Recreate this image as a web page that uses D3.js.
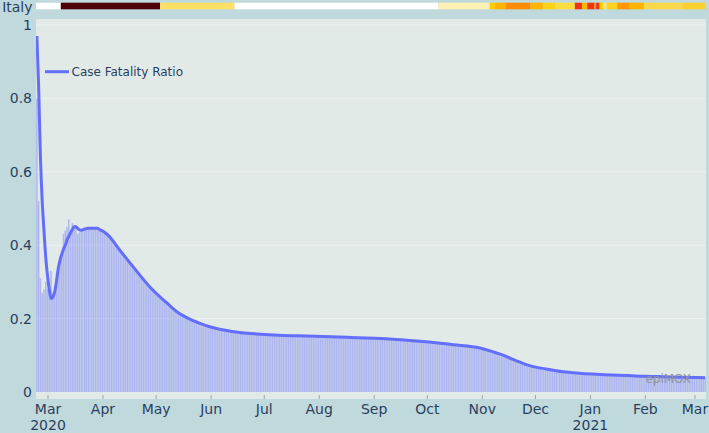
<!DOCTYPE html>
<html lang="en">
<head>
<meta charset="utf-8">
<title>Italy - Case Fatality Ratio</title>
<script src="https://cdnjs.cloudflare.com/ajax/libs/d3/7.8.0/d3.min.js"></script>
<style>
  body { margin: 0; background: #bfd9dc; }
  text { font-family: "DejaVu Sans", Verdana, sans-serif; fill: #2a3f5f; }
</style>
</head>
<body>
<div id="chart"></div>
<script>
// daily case fatality ratio (bars), one value per day starting at firstDay
var firstDay = "2020-02-24";
var cfrDaily = [
  0.80, 0.52, 0.31, 0.27, 0.28, 0.30, 0.28, 0.29, 0.33, 0.27,
  0.26, 0.30, 0.33, 0.37, 0.38, 0.43, 0.44, 0.45, 0.47, 0.44,
  0.46, 0.45, 0.455, 0.43, 0.435, 0.44, 0.445, 0.445, 0.45, 0.448,
  0.447, 0.45, 0.446, 0.447, 0.446, 0.444, 0.441, 0.439, 0.436, 0.432,
  0.428, 0.425, 0.419, 0.412, 0.405, 0.398, 0.392, 0.385, 0.379, 0.373,
  0.367, 0.361, 0.355, 0.349, 0.343, 0.337, 0.331, 0.325, 0.319, 0.313,
  0.307, 0.302, 0.296, 0.291, 0.285, 0.280, 0.275, 0.270, 0.265, 0.261,
  0.256, 0.252, 0.248, 0.244, 0.240, 0.235, 0.231, 0.227, 0.223, 0.219,
  0.215, 0.212, 0.209, 0.206, 0.203, 0.201, 0.199, 0.197, 0.195, 0.193,
  0.191, 0.189, 0.187, 0.185, 0.184, 0.182, 0.180, 0.178, 0.177, 0.176,
  0.175, 0.174, 0.173, 0.172, 0.171, 0.170, 0.169, 0.168, 0.167, 0.166,
  0.165, 0.165, 0.164, 0.164, 0.163, 0.162, 0.162, 0.161, 0.161, 0.160,
  0.160, 0.159, 0.159, 0.158, 0.158, 0.158, 0.157, 0.157, 0.157, 0.156,
  0.156, 0.156, 0.156, 0.155, 0.155, 0.155, 0.155, 0.154, 0.154, 0.154,
  0.154, 0.154, 0.154, 0.153, 0.153, 0.153, 0.153, 0.153, 0.153, 0.153,
  0.153, 0.152, 0.152, 0.152, 0.152, 0.152, 0.151, 0.151, 0.151, 0.151,
  0.151, 0.151, 0.150, 0.150, 0.150, 0.150, 0.150, 0.150, 0.150, 0.149,
  0.149, 0.149, 0.149, 0.149, 0.149, 0.149, 0.149, 0.148, 0.148, 0.148,
  0.148, 0.148, 0.147, 0.147, 0.147, 0.147, 0.147, 0.146, 0.146, 0.146,
  0.146, 0.146, 0.146, 0.145, 0.145, 0.145, 0.145, 0.145, 0.144, 0.144,
  0.144, 0.143, 0.143, 0.143, 0.142, 0.142, 0.142, 0.141, 0.141, 0.141,
  0.140, 0.140, 0.139, 0.139, 0.139, 0.138, 0.138, 0.137, 0.137, 0.136,
  0.136, 0.135, 0.135, 0.134, 0.134, 0.134, 0.133, 0.133, 0.132, 0.132,
  0.131, 0.131, 0.130, 0.130, 0.129, 0.129, 0.128, 0.128, 0.127, 0.127,
  0.126, 0.126, 0.125, 0.125, 0.124, 0.124, 0.123, 0.122, 0.122, 0.121,
  0.120, 0.119, 0.118, 0.117, 0.116, 0.114, 0.112, 0.110, 0.109, 0.107,
  0.106, 0.104, 0.102, 0.100, 0.098, 0.096, 0.094, 0.092, 0.090, 0.088,
  0.086, 0.084, 0.082, 0.080, 0.078, 0.077, 0.075, 0.074, 0.072, 0.071,
  0.070, 0.069, 0.068, 0.067, 0.066, 0.065, 0.064, 0.063, 0.062, 0.061,
  0.060, 0.059, 0.059, 0.058, 0.057, 0.057, 0.056, 0.055, 0.055, 0.054,
  0.054, 0.053, 0.053, 0.052, 0.052, 0.052, 0.051, 0.051, 0.051, 0.050,
  0.050, 0.050, 0.049, 0.049, 0.049, 0.049, 0.048, 0.048, 0.048, 0.048,
  0.047, 0.047, 0.047, 0.047, 0.046, 0.046, 0.046, 0.046, 0.046, 0.045,
  0.045, 0.045, 0.045, 0.045, 0.044, 0.044, 0.044, 0.044, 0.044, 0.044,
  0.043, 0.043, 0.043, 0.043, 0.043, 0.043, 0.042, 0.042, 0.042, 0.042,
  0.042, 0.042, 0.041, 0.041, 0.041, 0.041, 0.041, 0.041, 0.040, 0.040,
  0.040, 0.040, 0.040, 0.040, 0.040, 0.040, 0.040, 0.040, 0.039, 0.039,
  0.039, 0.039, 0.039, 0.039, 0.039, 0.039, 0.039, 0.039
];

// smoothed trend (the line)
var trendDates = [
  "2020-02-24", "2020-02-25", "2020-02-26", "2020-02-27", "2020-02-28", "2020-02-29",
  "2020-03-01", "2020-03-02", "2020-03-03", "2020-03-04", "2020-03-05", "2020-03-06",
  "2020-03-07", "2020-03-08", "2020-03-09", "2020-03-10", "2020-03-11", "2020-03-12",
  "2020-03-13", "2020-03-14", "2020-03-15", "2020-03-16", "2020-03-17", "2020-03-18",
  "2020-03-19", "2020-03-20", "2020-03-22", "2020-03-24", "2020-03-29", "2020-03-31",
  "2020-04-02", "2020-04-04", "2020-04-11", "2020-04-18", "2020-04-28", "2020-05-07",
  "2020-05-14", "2020-05-20", "2020-05-26", "2020-06-01", "2020-06-13", "2020-06-27",
  "2020-07-12", "2020-07-21", "2020-08-17", "2020-09-08", "2020-09-27", "2020-10-16",
  "2020-10-31", "2020-11-07", "2020-11-11", "2020-11-19", "2020-11-28", "2020-12-08",
  "2020-12-17", "2020-12-26", "2021-01-14", "2021-02-02", "2021-02-21", "2021-03-07"
];
var trendValues = [
  0.97, 0.83, 0.64, 0.52, 0.44, 0.367,
  0.316, 0.278, 0.255, 0.258, 0.272, 0.30,
  0.335, 0.358, 0.375, 0.389, 0.40, 0.414,
  0.424, 0.434, 0.443, 0.45, 0.45, 0.446,
  0.442, 0.441, 0.444, 0.446, 0.446, 0.441,
  0.436, 0.428, 0.385, 0.343, 0.285, 0.244,
  0.215, 0.199, 0.187, 0.177, 0.165, 0.158,
  0.154, 0.153, 0.149, 0.145, 0.138, 0.129,
  0.120, 0.110, 0.104, 0.088, 0.072, 0.062,
  0.055, 0.051, 0.046, 0.043, 0.040, 0.039
];

// status strip above the chart (each colour holds until the next start date)
var stripStarts = [
  "2020-02-24", "2020-03-09", "2020-05-04", "2020-06-15", "2020-10-08", "2020-11-06",
  "2020-11-09", "2020-11-15", "2020-11-29", "2020-12-06", "2020-12-13", "2020-12-24",
  "2020-12-28", "2020-12-31", "2021-01-04", "2021-01-05", "2021-01-07", "2021-01-09",
  "2021-01-11", "2021-01-17", "2021-01-24", "2021-02-01", "2021-02-23"
];
var stripColors = [
  "#ffffff", "#4d0008", "#ffe066", "#ffffff", "#fff0b3", "#ffc800",
  "#ffb300", "#ff8c00", "#ffb400", "#ffd21a", "#ffdc40", "#ee3311",
  "#ffb400", "#ee3311", "#ff8c00", "#ee3311", "#ffd000", "#ffe680",
  "#ffd21a", "#ff9800", "#ffb400", "#ffd84a", "#ffd030"
];

var yTicks = [0, 0.2, 0.4, 0.6, 0.8, 1];
var country = "Italy";
var seriesName = "Case Fatality Ratio";

var W = 709, H = 433;
var plot = { left: 36, right: 706, top: 19, bottom: 399 };
var parse = d3.timeParse("%Y-%m-%d");
var HALF = 12 * 3600 * 1000;

var start = parse(firstDay);
var days = cfrDaily.map(function(v, i) { return d3.timeDay.offset(start, i); });
var lastDay = days[days.length - 1];

var x = d3.scaleTime()
  .domain([new Date(+start - HALF), new Date(+lastDay + HALF)])
  .range([plot.left, plot.right]);
var y = d3.scaleLinear().domain([0, 1]).range([392, 25]);

var svg = d3.select("#chart").append("svg")
  .attr("width", W).attr("height", H);

svg.append("rect").attr("width", W).attr("height", H).attr("fill", "#bfd9dc");
svg.append("rect")
  .attr("x", plot.left).attr("y", plot.top)
  .attr("width", plot.right - plot.left).attr("height", plot.bottom - plot.top)
  .attr("fill", "#e2eae8");

svg.append("defs").append("clipPath").attr("id", "clip")
  .append("rect")
  .attr("x", plot.left).attr("y", plot.top)
  .attr("width", plot.right - plot.left).attr("height", plot.bottom - plot.top);

// gridlines
svg.append("g").selectAll("line")
  .data(yTicks.filter(function(d) { return d > 0; }))
  .enter().append("line")
  .attr("x1", plot.left).attr("x2", plot.right)
  .attr("y1", function(d) { return y(d); }).attr("y2", function(d) { return y(d); })
  .attr("stroke", "#eef3f2").attr("stroke-width", 1);

var body = svg.append("g").attr("clip-path", "url(#clip)");

// daily bars
var band = x(d3.timeDay.offset(start, 1)) - x(start);
body.append("g").selectAll("rect")
  .data(cfrDaily)
  .enter().append("rect")
  .attr("x", function(d, i) { return x(days[i]) - band * 0.42; })
  .attr("width", band * 0.84)
  .attr("y", function(d) { return y(d); })
  .attr("height", function(d) { return y(0) - y(d); })
  .attr("fill", "#636efa")
  .attr("fill-opacity", 0.42);

// trend line
var line = d3.line()
  .x(function(d, i) { return x(parse(trendDates[i])); })
  .y(function(d) { return y(d); })
  .curve(d3.curveMonotoneX);

body.append("path")
  .datum(trendValues)
  .attr("d", line)
  .attr("fill", "none")
  .attr("stroke", "#636efa")
  .attr("stroke-width", 3)
  .attr("stroke-linejoin", "round");

// watermark
svg.append("text")
  .attr("x", 691).attr("y", 383)
  .attr("text-anchor", "end")
  .style("font-size", "12px")
  .style("fill", "#8f9598")
  .text("epiMOX");

// status strip
var stripG = svg.append("g");
stripG.selectAll("rect")
  .data(stripStarts)
  .enter().append("rect")
  .attr("x", function(d) { return x(new Date(+parse(d) - HALF)); })
  .attr("width", function(d, i) {
    var end = i < stripStarts.length - 1 ? new Date(+parse(stripStarts[i + 1]) - HALF) : x.domain()[1];
    return x(end) - x(new Date(+parse(d) - HALF));
  })
  .attr("y", 2.7).attr("height", 6.6)
  .attr("fill", function(d, i) { return stripColors[i]; });

svg.append("text")
  .attr("x", 32.5).attr("y", 11.5)
  .attr("text-anchor", "end")
  .style("font-size", "14px")
  .text(country);

// y axis
var yAxis = svg.append("g")
  .attr("transform", "translate(" + plot.left + ",0)")
  .call(d3.axisLeft(y).tickValues(yTicks).tickFormat(d3.format("~g")).tickSize(0).tickPadding(4));
yAxis.select(".domain").remove();
yAxis.selectAll("text").style("font-size", "14px").attr("fill", null);

// x axis
var monthTicks = d3.timeMonth.range(parse("2020-03-01"), parse("2021-03-02"));
var xAxis = svg.append("g")
  .attr("transform", "translate(0," + plot.bottom + ")")
  .call(d3.axisBottom(x).tickValues(monthTicks).tickFormat(d3.timeFormat("%b"))
    .tickSizeInner(-4).tickSizeOuter(0).tickPadding(5));
xAxis.select(".domain").remove();
xAxis.selectAll("line").attr("stroke", "#9aa5a8");
xAxis.selectAll("text").style("font-size", "14px").attr("fill", null)
  .each(function(d, i) {
    if (i === 0 || d.getMonth() === 0) {
      d3.select(this).append("tspan")
        .attr("x", 0).attr("dy", "1.18em")
        .text(d3.timeFormat("%Y")(d));
    }
  });

// legend
var legend = svg.append("g");
legend.append("line")
  .attr("x1", 45).attr("x2", 69).attr("y1", 71.7).attr("y2", 71.7)
  .attr("stroke", "#636efa").attr("stroke-width", 3);
legend.append("text")
  .attr("x", 71.5).attr("y", 76)
  .style("font-size", "12px")
  .text(seriesName);
</script>
</body>
</html>
